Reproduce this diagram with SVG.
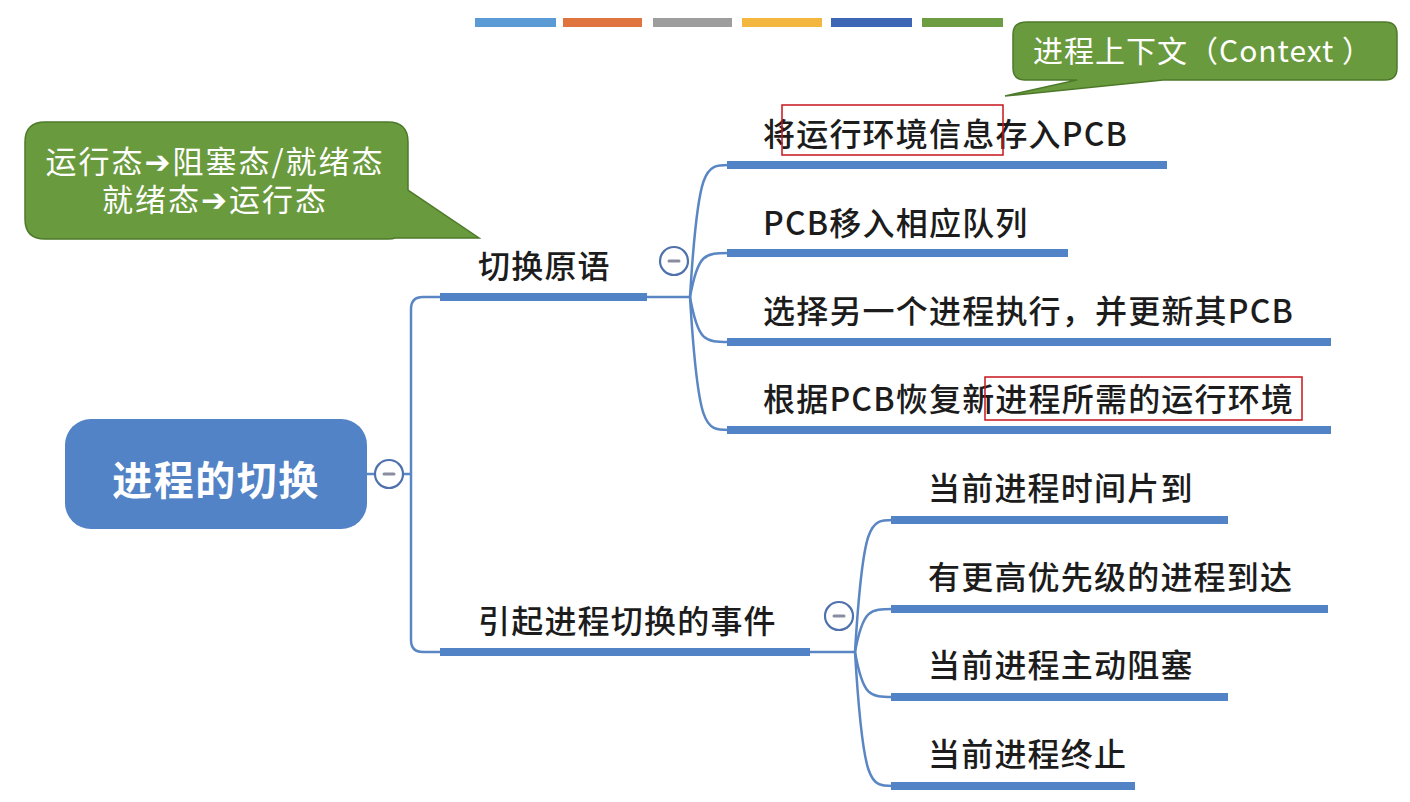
<svg xmlns="http://www.w3.org/2000/svg" width="1410" height="802" viewBox="0 0 1410 802">
<style>
  .t { font-family: "Noto Sans CJK SC", "Noto Sans", sans-serif; font-size: 32px; letter-spacing: 1.2px; fill: #1c1c1c; font-weight: 500; }
  .ct { font-family: "Noto Sans CJK SC", "Noto Sans", "DejaVu Sans", sans-serif; fill: #ffffff; }
  .bar { stroke: #5283c6; stroke-width: 8; stroke-linecap: butt; fill: none; }
  .thin { stroke: #5a86c4; stroke-width: 2.5; fill: none; }
  .callout { fill: #6a9a3e; stroke: #4d7a2a; stroke-width: 1.5; }
  .tog circle { fill: #ffffff; stroke: #4f72ad; stroke-width: 2.2; }
  .tog line { stroke: #8a8ca0; stroke-width: 3; stroke-linecap: round; }
  .mark { fill: none; stroke: #c8141c; stroke-width: 1.5; }
</style>

<!-- top colour bars -->
<g id="palette">
  <rect x="475" y="18" width="81" height="9" fill="#5b9bd5"/>
  <rect x="563" y="18" width="79" height="9" fill="#e0743e"/>
  <rect x="653" y="18" width="79" height="9" fill="#9d9d9d"/>
  <rect x="742" y="18" width="80" height="9" fill="#f3b63f"/>
  <rect x="831" y="18" width="81" height="9" fill="#3d66b4"/>
  <rect x="922" y="18" width="81" height="9" fill="#6c9d43"/>
</g>

<!-- connectors -->
<g id="connectors">
  <line class="thin" x1="367" y1="474" x2="411" y2="474"/>
  <path class="thin" d="M411,474 V309 Q411,297 423,297 H442"/>
  <path class="thin" d="M411,474 V640 Q411,652 423,652 H442"/>
  <line class="thin" x1="645" y1="297" x2="690" y2="297"/>
  <path class="thin" d="M690,297 C698,165 705,165 729,165"/>
  <path class="thin" d="M690,297 C698,253 705,253 729,253"/>
  <path class="thin" d="M690,297 C698,342 705,342 729,342"/>
  <path class="thin" d="M690,297 C698,430 705,430 729,430"/>
  <line class="thin" x1="808" y1="652" x2="855" y2="652"/>
  <path class="thin" d="M855,652 C863,520 870,520 893,520"/>
  <path class="thin" d="M855,652 C863,609 870,609 893,609"/>
  <path class="thin" d="M855,652 C863,697 870,697 893,697"/>
  <path class="thin" d="M855,652 C863,786 870,786 893,786"/>
</g>

<!-- root -->
<g id="root">
  <rect x="65" y="419" width="302" height="110" rx="26" fill="#5283c6"/>
  <text x="216" y="495" text-anchor="middle" font-family="Noto Sans CJK SC, Noto Sans, sans-serif" font-size="40" font-weight="700" letter-spacing="1.5" fill="#ffffff">进程的切换</text>
  <g class="tog"><circle cx="389" cy="474" r="14"/><line x1="384" y1="474" x2="394" y2="474"/></g>
</g>

<!-- branch 1 -->
<g id="branch-switch">
  <line class="bar" x1="440" y1="297" x2="647" y2="297"/>
  <text class="t" x="478" y="278">切换原语</text>
  <g class="tog"><circle cx="674" cy="261" r="14"/><line x1="669" y1="261" x2="679" y2="261"/></g>
</g>
<g id="n-save">
  <line class="bar" x1="727" y1="165" x2="1167" y2="165"/>
  <text class="t" x="763" y="146">将运行环境信息存入PCB</text>
</g>
<g id="n-move">
  <line class="bar" x1="727" y1="253" x2="1068" y2="253"/>
  <text class="t" x="763" y="235">PCB移入相应队列</text>
</g>
<g id="n-select">
  <line class="bar" x1="727" y1="342" x2="1331" y2="342"/>
  <text class="t" x="763" y="323">选择另一个进程执行，并更新其PCB</text>
</g>
<g id="n-restore">
  <line class="bar" x1="727" y1="430" x2="1331" y2="430"/>
  <text class="t" x="763" y="411">根据PCB恢复新进程所需的运行环境</text>
</g>

<!-- branch 2 -->
<g id="branch-events">
  <line class="bar" x1="440" y1="652" x2="810" y2="652"/>
  <text class="t" x="478" y="633">引起进程切换的事件</text>
  <g class="tog"><circle cx="839" cy="616" r="14"/><line x1="834" y1="616" x2="844" y2="616"/></g>
</g>
<g id="e-slice">
  <line class="bar" x1="891" y1="520" x2="1228" y2="520"/>
  <text class="t" x="928" y="500">当前进程时间片到</text>
</g>
<g id="e-priority">
  <line class="bar" x1="891" y1="609" x2="1328" y2="609"/>
  <text class="t" x="928" y="589">有更高优先级的进程到达</text>
</g>
<g id="e-block">
  <line class="bar" x1="891" y1="697" x2="1228" y2="697"/>
  <text class="t" x="928" y="677">当前进程主动阻塞</text>
</g>
<g id="e-exit">
  <line class="bar" x1="891" y1="786" x2="1135" y2="786"/>
  <text class="t" x="928" y="766">当前进程终止</text>
</g>

<!-- callouts -->
<g id="callout-states">
  <path class="callout" d="M45,122 H388 Q408,122 408,142 V190 L479,238 L395,238 Q393,239 388,239 H45 Q25,239 25,219 V142 Q25,122 45,122 Z"/>
  <text class="ct" text-anchor="middle" font-size="31" letter-spacing="2"><tspan x="215" y="173">运行态➔阻塞态/就绪态</tspan><tspan x="215" y="211">就绪态➔运行态</tspan></text>
</g>
<g id="callout-context">
  <path class="callout" d="M1027,22 H1385 Q1397,22 1397,34 V68 Q1397,80 1385,80 H1163 L1005,96 L1077,80 H1025 Q1013,80 1013,68 V34 Q1013,22 1027,22 Z"/>
  <text class="ct" x="1033" y="62" font-size="30" letter-spacing="1">进程上下文（Context ）</text>
</g>

<!-- red highlight boxes -->
<g id="highlights">
  <rect class="mark" x="782" y="105" width="221" height="50"/>
  <rect class="mark" x="985" y="377" width="317" height="43"/>
</g>
</svg>
